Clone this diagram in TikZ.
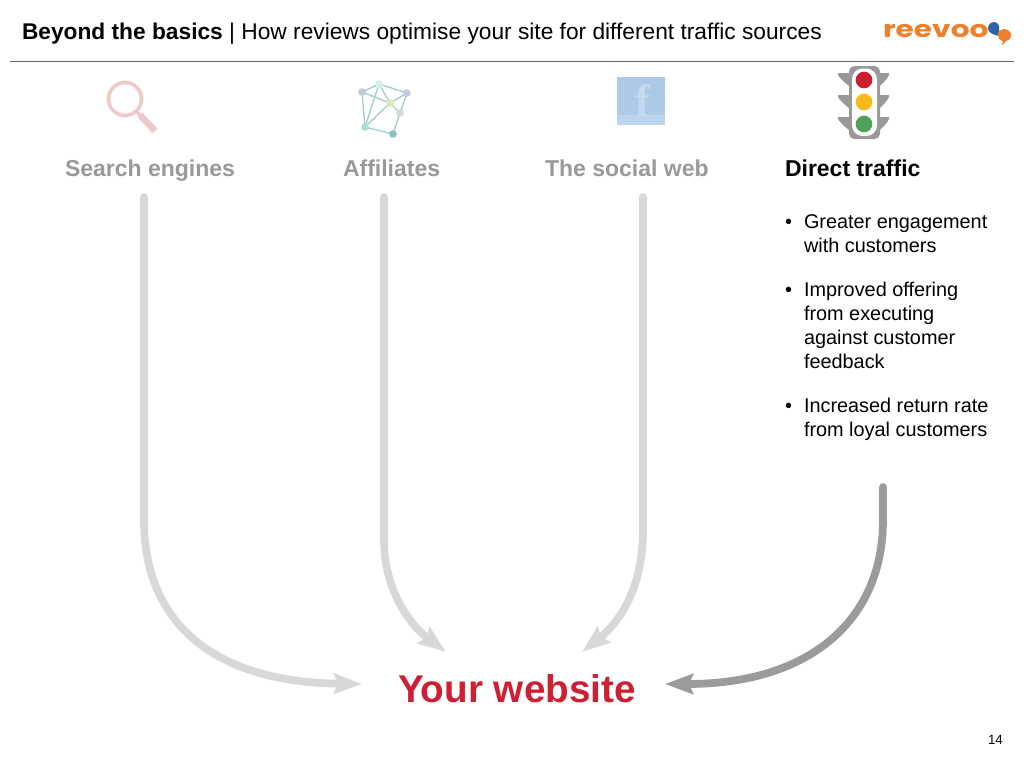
\documentclass[tikz,border=0pt]{standalone}
\usepackage{graphicx}
\usepackage{fontspec}
\setmainfont{Liberation Sans}
\usetikzlibrary{arrows.meta}
\definecolor{lightarrow}{HTML}{D8D8D8}
\definecolor{darkarrow}{HTML}{9B9B9B}
\definecolor{headgrey}{HTML}{999999}
\definecolor{webred}{HTML}{CE1F34}
\definecolor{logoorange}{HTML}{EE7F2D}
\definecolor{logoblue}{HTML}{2F62A8}
\definecolor{lampgrey}{HTML}{999999}
\definecolor{netline}{HTML}{A3CDD0}
\definecolor{lenspink}{HTML}{EFC8CB}
\newcommand{\linesblock}[1]{\begin{tabular}[t]{@{}l@{}}#1\end{tabular}}
\tikzset{
  pagetext/.style={inner sep=0pt,outer sep=0pt,anchor=base west,align=left,text=black},
  titletext/.style={pagetext,font=\fontsize{17.05pt}{20pt}\selectfont},
  bodytext/.style={pagetext,font=\fontsize{14.9pt}{18pt}\selectfont},
  heading/.style={pagetext,text=headgrey,font=\fontsize{17.25pt}{20pt}\selectfont\bfseries},
  flow/.style={line width=5.8pt,line cap=round,lightarrow,-{Stealth[length=21pt,width=15pt,inset=3pt]}},
  flowdark/.style={flow,darkarrow},
  netdot/.style={circle,inner sep=0pt,minimum size=6pt},
  netedge/.style={netline,line width=1pt},
  lamp/.style={circle,inner sep=0pt,minimum size=12.5pt},
}
\begin{document}
\begin{tikzpicture}[x=0.75pt,y=-0.75pt]
\useasboundingbox (0,0) rectangle (1024,768);
\fill[white] (0,0) rectangle (1024,768);
% title
\node[titletext] (title) at (22,39) {\textbf{Beyond the basics} | How reviews optimise your site for different traffic sources};
\coordinate (ruleL) at (10,61.5);
\coordinate (ruleR) at (1014,61.5);
\draw[color=black!60,line width=0.8pt] (ruleL) -- (ruleR);
% logo
\node[pagetext,text=logoorange,font=\fontsize{17.5pt}{17pt}\selectfont\fontspec{Poppins}\bfseries] (logo) at (883,37) {\scalebox{1.27}[1]{reevoo}};
\fill[logoblue] (988,28) .. controls (988,24) and (992,22) .. (994,22) .. controls (998,22) and (1000,26) .. (999,30) .. controls (999,33) and (998,34) .. (999,36) .. controls (996,36) and (993,34) .. (991,33) .. controls (989,32) and (988,30) .. (988,28) -- cycle;
\fill[logoorange] (998,35) .. controls (998,31) and (1001,29) .. (1004,29) .. controls (1008,29) and (1011,32) .. (1011,35) .. controls (1011,39) and (1008,41) .. (1006,41) .. controls (1005,42) and (1004,44) .. (1002,45) .. controls (1003,43) and (1003,41) .. (1002,40.5) .. controls (999,40) and (998,38) .. (998,35) -- cycle;
% magnifier
\draw[color=lenspink,line width=2.7pt] (125,99) circle (16.5);
\draw[color=lenspink,line width=2.6pt] (136,111) -- (141,116);
\draw[color=lenspink,line width=5pt] (140,115) -- (155,131);
% network
\foreach \n/\x/\y in {na/362/92,nb/379/84,nc/407/93,nd/390/103,ne/400/113,nf/365/127,ng/393/134}
  \node[netdot] (\n) at (\x,\y) {};
\foreach \a/\b in {na/nb,nb/nc,na/nd,nd/nc,nb/nd,na/nf,nb/nf,nd/nf,nd/ne,nc/ne,ne/ng,nf/ng}
  \draw[netedge] (\a.center) -- (\b.center);
\foreach \n/\c in {na/C3CBD8,nb/D5ECEC,nc/C3CBD8,nd/DCEBB5,ne/D3DADA,nf/A8E0D8,ng/8FBCCB}{
  \definecolor{tmpdot}{HTML}{\c}
  \fill[tmpdot] (\n) circle (3.8);
}
% facebook
\fill[fill={rgb,255:red,172;green,201;blue,231}] (617,77) rectangle (665,125);
\fill[fill={rgb,255:red,188;green,212;blue,236}] (617,115) rectangle (665,125);
\node[inner sep=0pt,text={rgb,255:red,196;green,216;blue,238},font=\fontsize{34pt}{34pt}\selectfont\fontspec{Liberation Serif}\bfseries] (fb) at (643,101) {f};
% traffic light
\foreach \ya/\yb in {73/88,95/110,117/132}{
  \fill[lampgrey] (838,\ya) -- (852,\ya) -- (852,\yb) .. controls (846,\yb-4) and (840,\yb-9) .. (838,\ya+2) -- cycle;
  \fill[lampgrey] (889,\ya) -- (877,\ya) -- (877,\yb) .. controls (883,\yb-4) and (887,\yb-9) .. (889,\ya+2) -- cycle;
}
\fill[lampgrey,rounded corners=4pt] (849,66) rectangle (880,139);
\fill[white,rounded corners=8pt] (852,68.5) rectangle (877,136);
\node[lamp,fill={rgb,255:red,204;green,32;blue,48}] (red) at (864,80) {};
\node[lamp,fill={rgb,255:red,248;green,185;blue,25}] (amber) at (864,102) {};
\node[lamp,fill={rgb,255:red,79;green,160;blue,90}] (green) at (864,124) {};
% headings
\node[heading] (h1) at (65,176) {Search engines};
\node[heading] (h2) at (343,176) {Affiliates};
\node[heading] (h3) at (545,176) {The social web};
\node[heading,text=black] (h4) at (785,176) {Direct traffic};
% bullets
\node[bodytext] (b1) at (785,228) {•};
\node[bodytext] (t1) at (804,228) {\linesblock{Greater engagement\\with customers}};
\node[bodytext] (b2) at (785,296) {•};
\node[bodytext] (t2) at (804,296) {\linesblock{Improved offering\\from executing\\against customer\\feedback}};
\node[bodytext] (b3) at (785,412) {•};
\node[bodytext] (t3) at (804,412) {\linesblock{Increased return rate\\from loyal customers}};
% target
\node[pagetext,text=webred,font=\fontsize{29pt}{30pt}\selectfont\bfseries] (web) at (398,702) {Your website};
\node[pagetext,font=\fontsize{10pt}{12pt}\selectfont] (page) at (988,744) {14};
% connectors
\coordinate (s1) at (144,197);
\coordinate (s2) at (384,197);
\coordinate (s3) at (643,197);
\coordinate (s4) at (883,487);
\coordinate (e1) at (362,684);
\coordinate (e2) at (446,652);
\coordinate (e3) at (582,652);
\coordinate (e4) at (665,684);
\draw[flow] (s1) -- (144,520) .. controls (144,620) and (210,682) .. (e1);
\draw[flow] (s2) -- (384,540) .. controls (384,590) and (410,625) .. (e2);
\draw[flow] (s3) -- (643,530) .. controls (643,585) and (622,620) .. (e3);
\draw[flowdark] (s4) -- (883,520) .. controls (883,620) and (810,684) .. (e4);
\end{tikzpicture}
\end{document}
